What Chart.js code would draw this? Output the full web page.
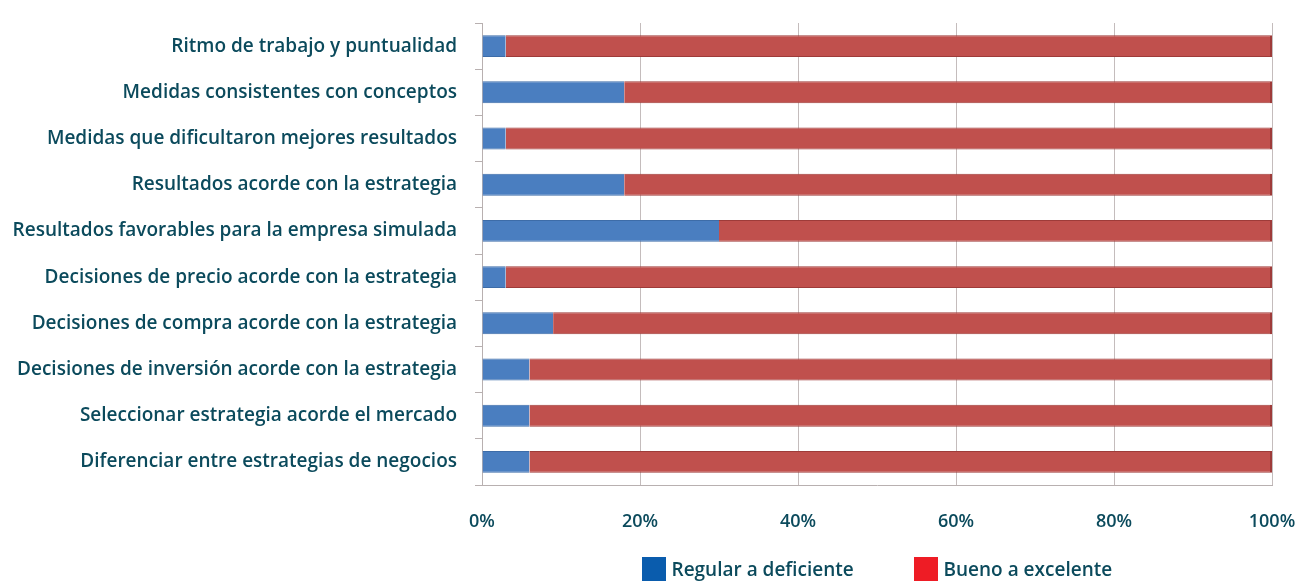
<!DOCTYPE html>
<html>
<head>
<meta charset="utf-8">
<script src="https://cdn.jsdelivr.net/npm/chart.js@4/dist/chart.umd.min.js"></script>
<style>
  html, body { margin: 0; padding: 0; background: #ffffff; }
  #wrap { position: relative; width: 1314px; height: 582px; }
  #legend { position: absolute; top: 556px; left: 0; width: 1314px; height: 26px; font-family: "Open Sans", sans-serif; font-size: 19px; font-weight: 600; color: #0b4a5c; }
  .item { position: absolute; top: 0; display: flex; align-items: center; height: 26px; }
  .sw { width: 24px; height: 24px; margin-right: 6px; }
</style>
</head>
<body>
<div id="wrap">
  <canvas id="c" width="1314" height="582"></canvas>
  <div id="legend"></div>
</div>
<script>
const categories = [
  "Ritmo de trabajo y puntualidad",
  "Medidas consistentes con conceptos",
  "Medidas que dificultaron mejores resultados",
  "Resultados acorde con la estrategia",
  "Resultados favorables para la empresa simulada",
  "Decisiones de precio acorde con la estrategia",
  "Decisiones de compra acorde con la estrategia",
  "Decisiones de inversión acorde con la estrategia",
  "Seleccionar estrategia acorde el mercado",
  "Diferenciar entre estrategias de negocios"
];
const regularDeficiente = [3, 18, 3, 18, 30, 3, 9, 6, 6, 6];
const buenoExcelente = [97, 82, 97, 82, 70, 97, 91, 94, 94, 94];
const xTicks = [0, 20, 40, 60, 80, 100];
const seriesNames = ["Regular a deficiente", "Bueno a excelente"];
const legendColors = ["#0a5cad", "#ee1c25"];

const textColor = "#0b4a5c";
const fontFamily = "'Open Sans', sans-serif";

const chart = new Chart(document.getElementById('c'), {
  type: 'bar',
  data: {
    labels: categories,
    datasets: [
      { label: seriesNames[0], data: regularDeficiente, backgroundColor: "#4a7ec0", borderColor: "#3d6ca8", borderWidth: {top:1,bottom:1,left:0,right:0}, borderSkipped: false, barPercentage: 0.95, categoryPercentage: 0.5 },
      { label: seriesNames[1], data: buenoExcelente, backgroundColor: "#c0504d", borderColor: "#9e3b39", borderWidth: {top:1,bottom:1,left:0,right:2}, borderSkipped: false, barPercentage: 0.95, categoryPercentage: 0.5 }
    ]
  },
  options: {
    indexAxis: 'y',
    responsive: false,
    animation: false,
    layout: { padding: { top: 23, right: 42, left: 0, bottom: 0 } },
    plugins: { legend: { display: false }, tooltip: { enabled: false } },
    scales: {
      x: {
        stacked: true,
        min: 0, max: 100,
        afterBuildTicks: (s) => { s.ticks = xTicks.map(v => ({ value: v })); },
        afterFit: (s) => { s.height = 97; s.paddingLeft = 0; s.paddingRight = 0; },
        grid: { color: "#c4bcbc", drawTicks: false, lineWidth: 1 },
        border: { display: true, color: "#b8b0b0" },
        ticks: { padding: 26, color: textColor, font: { family: fontFamily, size: 18, weight: '600' }, callback: (v) => v + '%' }
      },
      y: {
        stacked: true,
        afterFit: (s) => { s.width = 482; s.paddingTop = 0; s.paddingBottom = 0; },
        grid: { drawOnChartArea: false, drawTicks: true, tickLength: 7, color: "#b8b0b0" },
        border: { display: true, color: "#b8b0b0" },
        ticks: { padding: 18, color: textColor, font: { family: fontFamily, size: 19, weight: '600' } }
      }
    }
  }
});

// HTML legend built from dataset names, centred under the plot area
const leg = document.getElementById('legend');
const ca = chart.chartArea;
const center = (ca.left + ca.right) / 2;
const items = seriesNames.map((n, i) => {
  const d = document.createElement('div');
  d.className = 'item';
  d.innerHTML = '<div class="sw" style="background:' + legendColors[i] + '"></div><span>' + n + '</span>';
  leg.appendChild(d);
  return d;
});
const gap = 60;
const total = items.reduce((a, d) => a + d.offsetWidth, 0) + gap;
let x = center - total / 2;
items.forEach(d => { d.style.left = x + 'px'; x += d.offsetWidth + gap; });
</script>
</body>
</html>
